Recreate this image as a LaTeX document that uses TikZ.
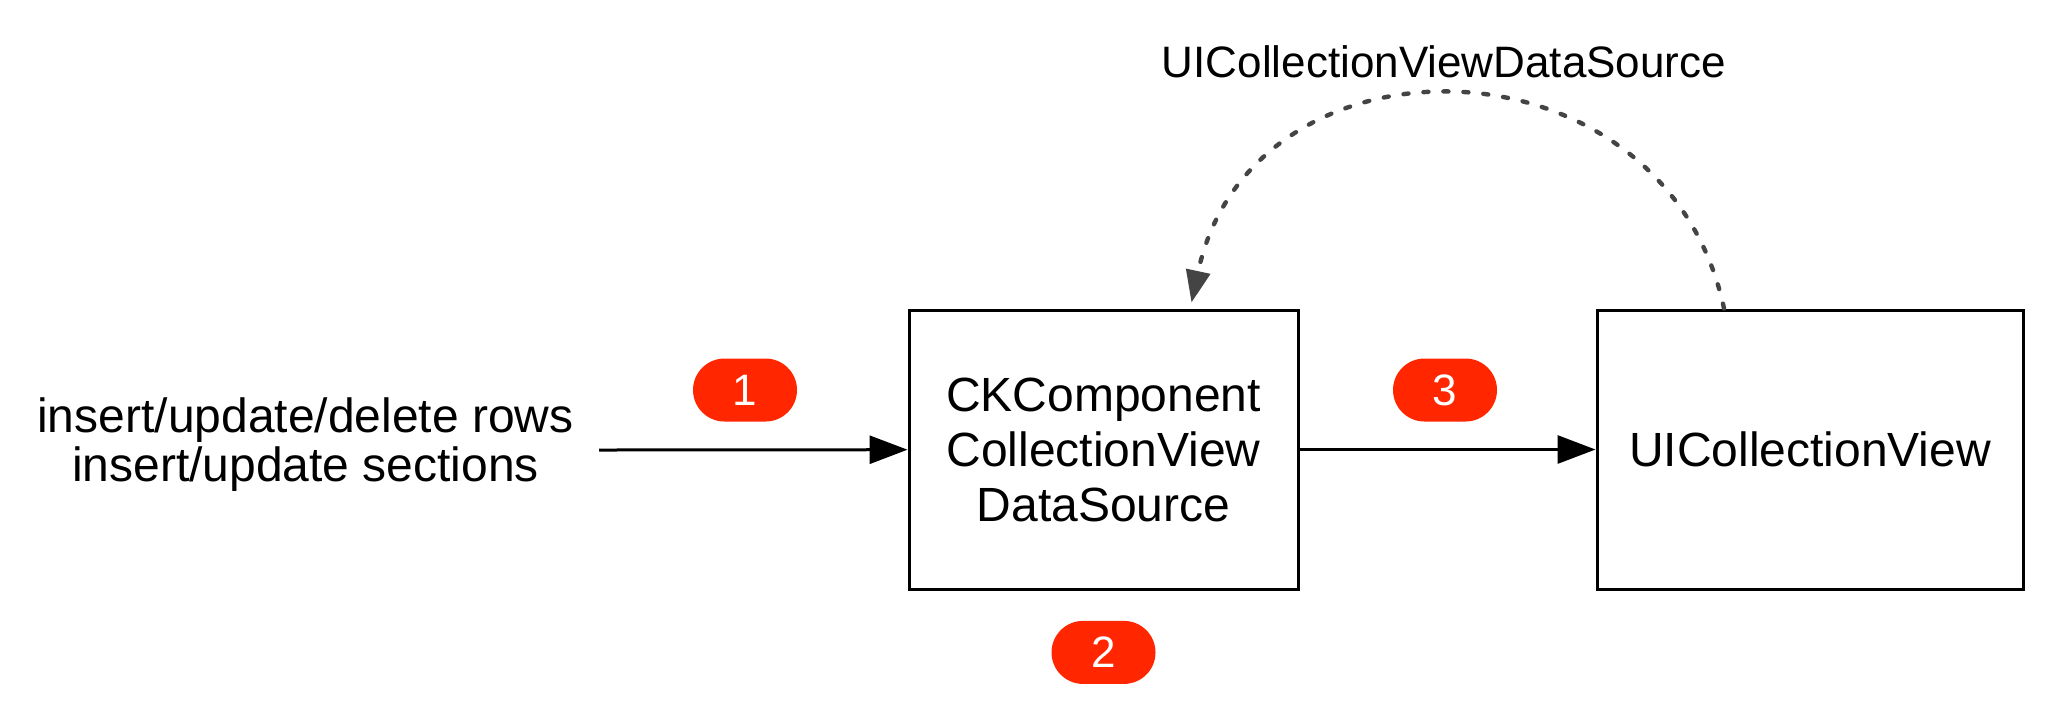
\documentclass[tikz,border=0pt]{standalone}
\usepackage{fontspec}
\setmainfont{Liberation Sans}
\usetikzlibrary{arrows.meta,positioning,calc}
\definecolor{badgered}{RGB}{255,38,0}
\definecolor{dotgray}{RGB}{68,68,68}
\tikzset{
  boxnd/.style={draw, line width=1.5pt, minimum height=139.5pt, align=center, font=\fontsize{24}{27.5}\selectfont},
  badge/.style={fill=badgered, text=white, rounded corners=15.75pt, minimum width=52pt, minimum height=31.5pt, inner sep=0pt, font=\fontsize{22}{26}\selectfont},
  flowln/.style={-{Triangle[length=19pt,width=14pt]}, line width=1.5pt},
  dsln/.style={-{Triangle[length=16pt,width=12pt]}, dotgray, line width=2.2pt, line cap=round, dash pattern=on 2.5pt off 7.5pt},
}

\begin{document}
\begin{tikzpicture}[x=0.5pt,y=-0.5pt]
    \useasboundingbox (0,0) rectangle (2064,720);
    % Boxes
    \node[boxnd, minimum width=194.5pt] (ckds) at (1103.5,449.5) {CKComponent\\CollectionView\\DataSource};
    \node[boxnd, minimum width=213pt] (uicv) at (1810,449.5) {UICollectionView};
    % Incoming changes
    \node[align=center, font=\fontsize{24}{24.5}\selectfont] (ops) at (305.5,445) {insert/update/delete rows\\insert/update sections};
    \coordinate (opsout) at (599,450);
    \draw[flowln] (opsout) -- (ckds);
    \draw[flowln] (ckds) -- (uicv);
    % Numbered steps
    \node[badge] (step1) at (745,390) {1};
    \node[badge, below=15pt of ckds] (step2) {2};
    \node[badge] (step3) at (1445,390) {3};
    % Data source callback
    \node[font=\fontsize{22}{26}\selectfont] (dslbl) at (1444,62) {UICollectionViewDataSource};
    \coordinate (dsout) at ([xshift=-43pt]uicv.north);
    \coordinate (dsin) at ([xshift=44pt,yshift=3pt]ckds.north);
    \draw[dsln] (dsout) .. controls +(-60,-280) and +(60,-280) .. (dsin);
\end{tikzpicture}
\end{document}
